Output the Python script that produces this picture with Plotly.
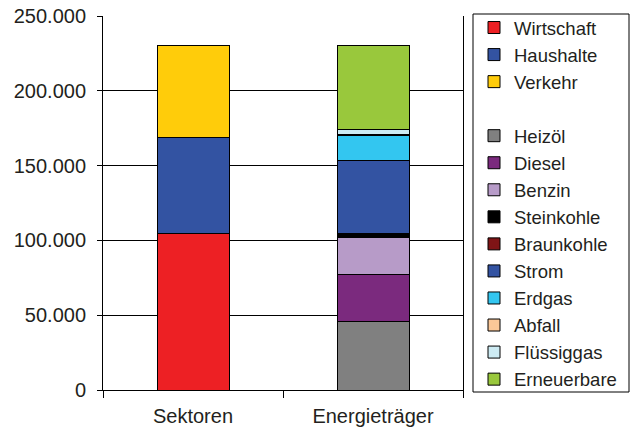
import plotly.graph_objects as go

categories = ["Sektoren", "Energieträger"]

sector_names = ["Wirtschaft", "Haushalte", "Verkehr"]
sector_values = [104500, 64400, 61300]
sector_colors = ["#ED2024", "#3353A2", "#FFCC0A"]

carrier_names = ["Heizöl", "Diesel", "Benzin", "Steinkohle", "Braunkohle",
                 "Strom", "Erdgas", "Abfall", "Flüssiggas", "Erneuerbare"]
carrier_values = [46000, 31100, 25100, 2400, 300, 48400, 17100, 200, 3600, 56000]
carrier_colors = ["#808080", "#7B2A7E", "#B79BC8", "#000000", "#7F1416",
                  "#3353A2", "#33C6F0", "#FBC898", "#CDEBF3", "#99C83C"]

y_ticks = [0, 50000, 100000, 150000, 200000, 250000]

FONT = "Liberation Sans, Arial, sans-serif"
TXT = "#231F20"

fig = go.Figure()
for n, v, c in zip(sector_names, sector_values, sector_colors):
    fig.add_trace(go.Bar(x=[categories[0]], y=[v], name=n, legendgroup="s",
                         marker=dict(color=c, line=dict(color="black", width=1))))
for n, v, c in zip(carrier_names, carrier_values, carrier_colors):
    fig.add_trace(go.Bar(x=[categories[1]], y=[v], name=n, legendgroup="e",
                         marker=dict(color=c, line=dict(color="black", width=1))))

# plot area: x 103..463, y 16..390 (px)
W, H = 360, 374
def px_x(x):
    return (x - 103) / W
def px_y(y):
    return (390 - y) / H

fig.add_shape(type="rect", xref="paper", yref="paper",
              x0=px_x(473), x1=px_x(629), y0=px_y(392), y1=px_y(14),
              line=dict(color="black", width=1), fillcolor="rgba(0,0,0,0)")

fig.update_layout(
    width=630, height=427,
    margin=dict(l=103, r=167, t=16, b=37, autoexpand=False),
    barmode="stack", bargap=0.6,
    paper_bgcolor="white", plot_bgcolor="white",
    separators=",.",
    font=dict(family=FONT, size=20, color=TXT),
    showlegend=True,
    legend=dict(x=px_x(474), y=px_y(9), xanchor="left", yanchor="top",
                traceorder="grouped", tracegroupgap=27,
                borderwidth=0, bgcolor="rgba(0,0,0,0)",
                font=dict(family=FONT, size=18.5, color=TXT),
                maxheight=420, itemclick=False),
    xaxis=dict(type="category", categoryorder="array", categoryarray=categories,
               showline=True, linecolor="black", linewidth=1,
               ticks="outside", ticklen=7, tickcolor="black", tickson="boundaries",
               showgrid=False, tickfont=dict(size=20), ticklabelstandoff=8),
    yaxis=dict(range=[0, 250000], tickvals=y_ticks, tickformat=",d",
               showline=True, linecolor="black", linewidth=1, mirror=True,
               ticks="outside", ticklen=5, tickcolor="black",
               showgrid=True, gridcolor="black", gridwidth=1,
               zeroline=False, ticklabelstandoff=7, tickfont=dict(size=20)),
)

fig.write_html("out.html")
